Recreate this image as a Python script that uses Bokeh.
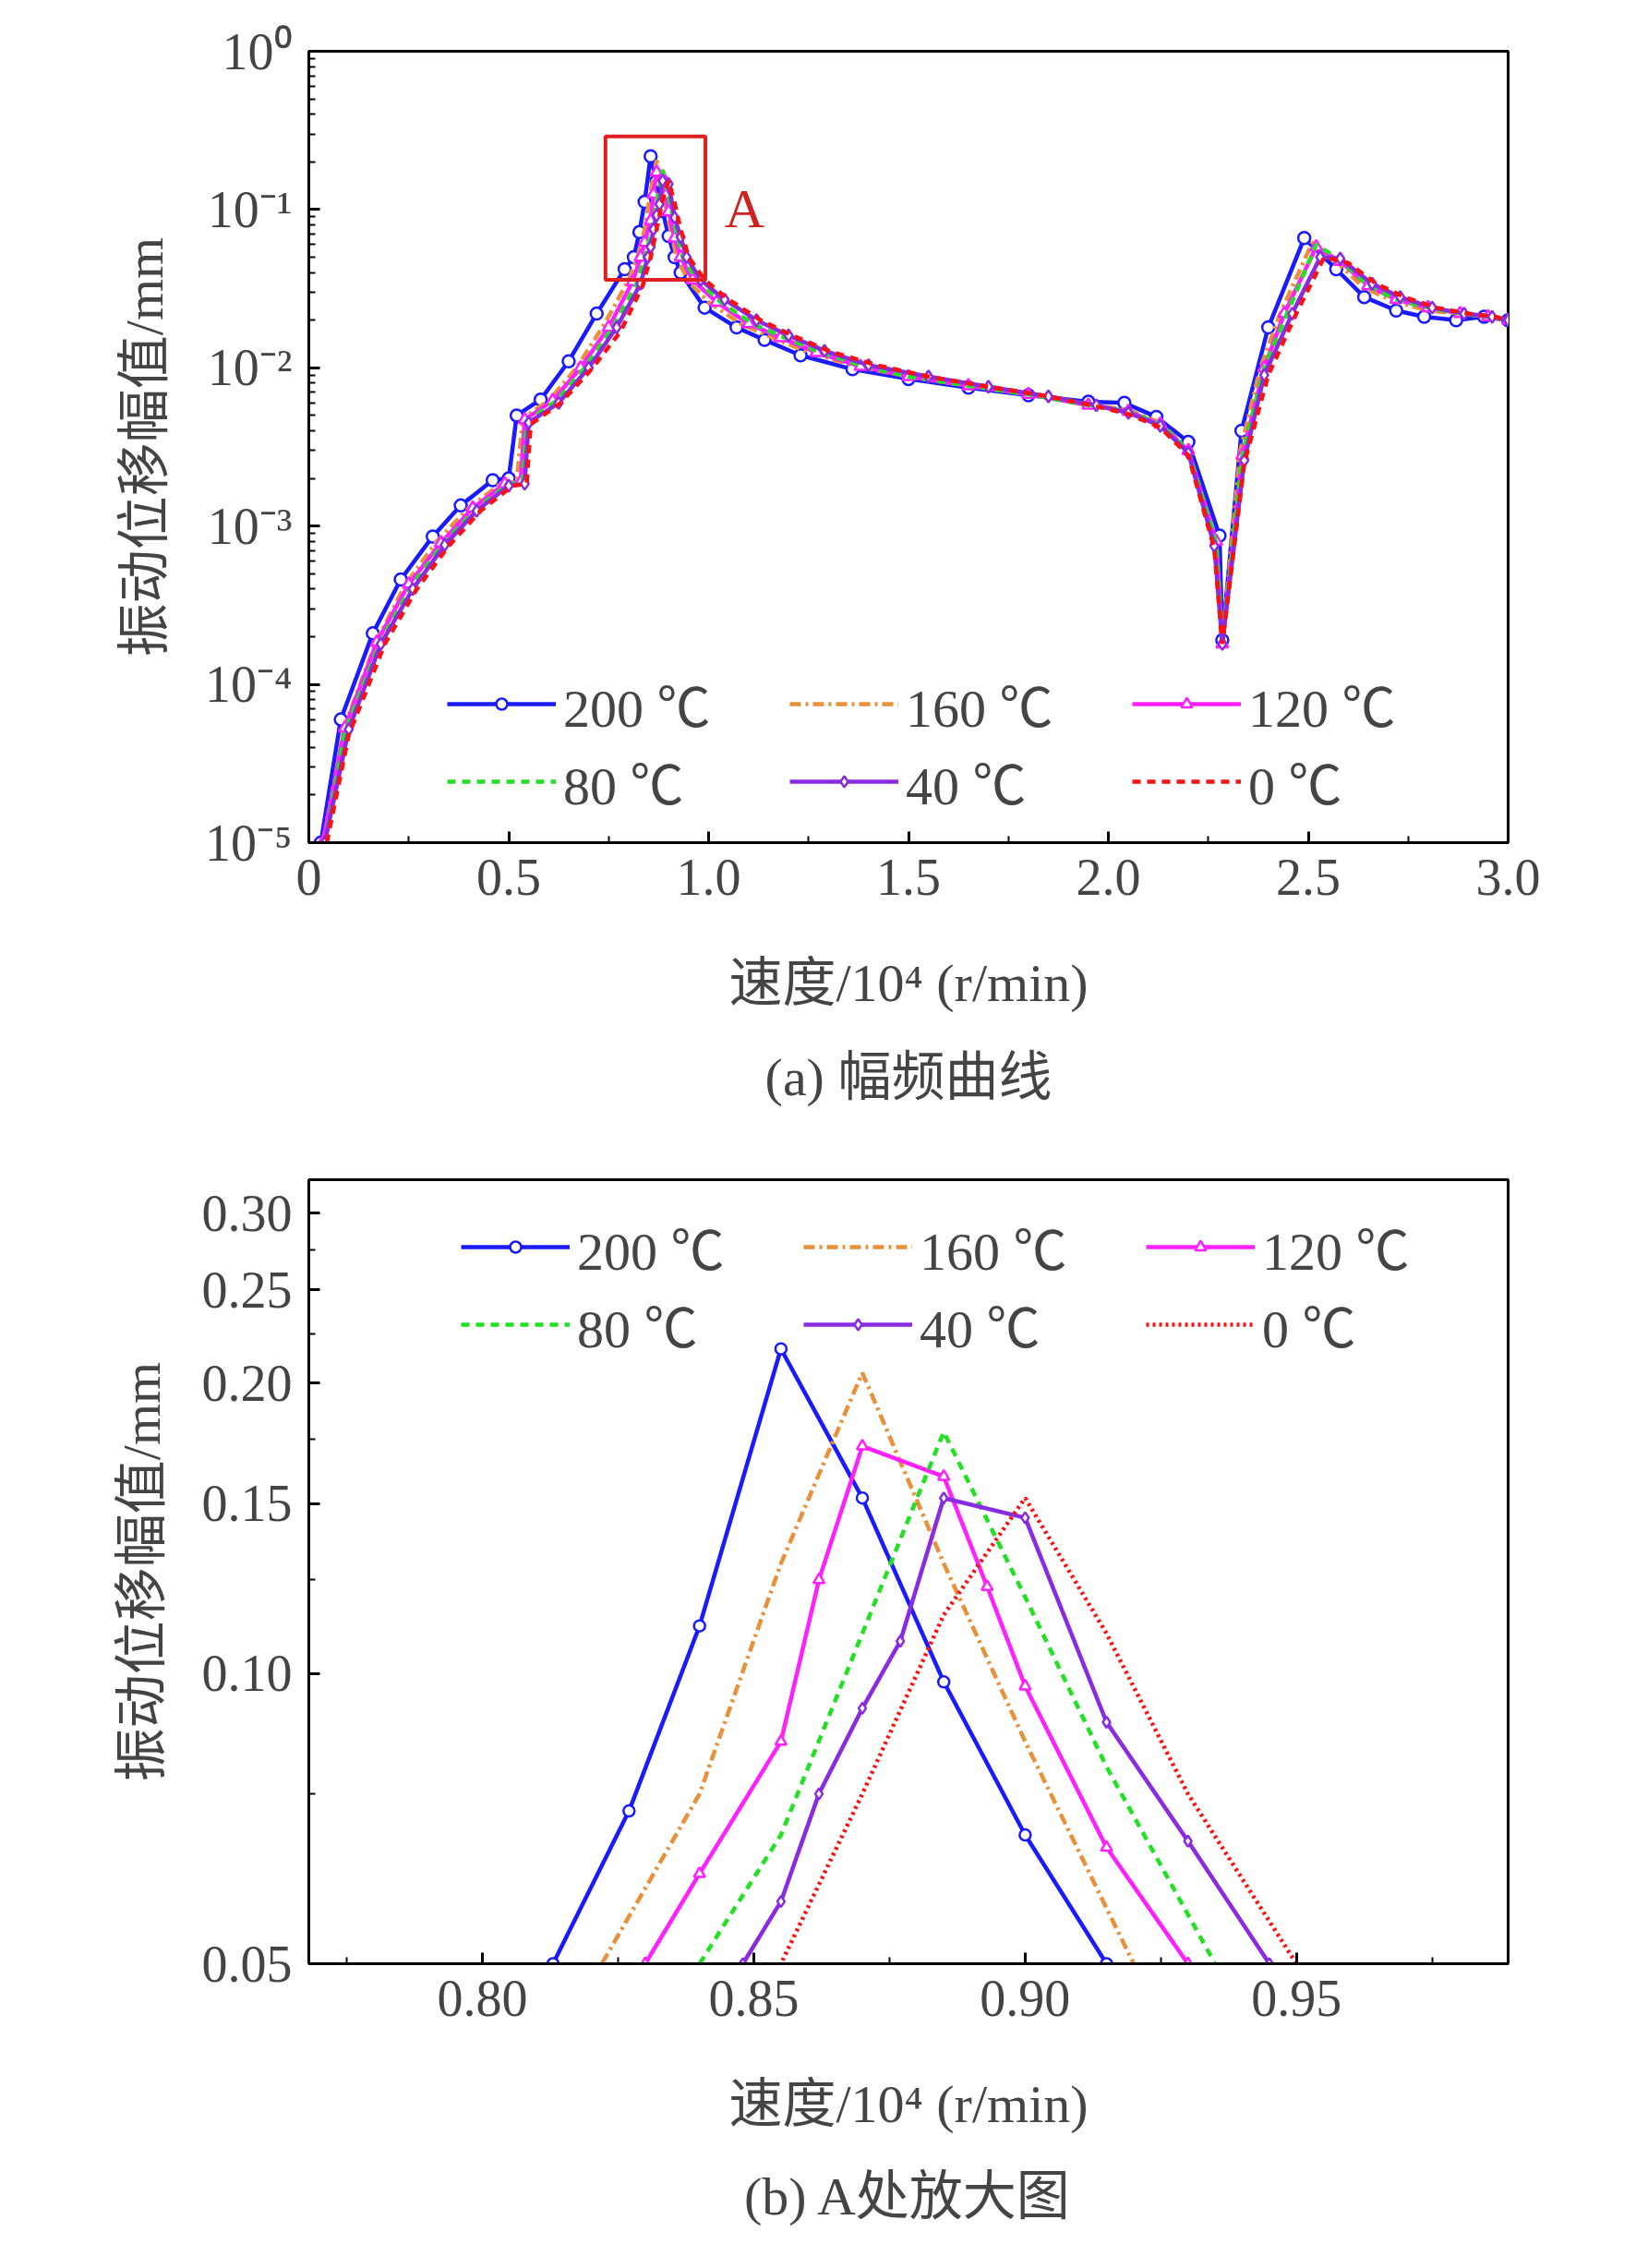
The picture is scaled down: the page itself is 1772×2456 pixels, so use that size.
from bokeh.plotting import figure
from bokeh.layouts import column
from bokeh.models import (Legend, LegendItem, FixedTicker, Title, BoxAnnotation, Label,
                          LogTicker)
from bokeh.embed import file_html
from bokeh.resources import INLINE

# data: speed (10^4 r/min), amplitude (mm)
labels = ["200 ℃", "160 ℃", "120 ℃", "80 ℃", "40 ℃", "0 ℃"]

s200 = [(0.03, 1.0e-5), (0.08, 6.0e-5), (0.16, 2.1e-4), (0.23, 4.6e-4), (0.31, 8.6e-4),
        (0.38, 1.35e-3), (0.46, 1.95e-3), (0.50, 2.0e-3), (0.52, 5.0e-3), (0.58, 6.3e-3),
        (0.65, 1.1e-2), (0.72, 2.2e-2), (0.79, 4.2e-2), (0.813, 0.05), (0.827, 0.072),
        (0.84, 0.112), (0.855, 0.217), (0.87, 0.152), (0.885, 0.098), (0.90, 0.068),
        (0.915, 0.05), (0.93, 0.04), (0.99, 0.024), (1.07, 0.018), (1.14, 0.015),
        (1.23, 0.012), (1.36, 0.0098), (1.5, 0.0085), (1.65, 0.0075), (1.8, 0.0067),
        (1.95, 0.0061), (2.04, 0.006), (2.12, 0.0049), (2.20, 0.0034), (2.278, 8.7e-4),
        (2.285, 1.9e-4), (2.333, 4.0e-3), (2.40, 1.8e-2), (2.49, 0.066), (2.57, 0.042),
        (2.64, 0.028), (2.72, 0.023), (2.79, 0.021), (2.87, 0.02), (2.94, 0.021), (3.0, 0.02)]
s160 = [(0.035, 1.0e-5), (0.09, 5.5e-5), (0.17, 1.9e-4), (0.24, 4.2e-4), (0.32, 8.0e-4),
        (0.40, 1.3e-3), (0.48, 1.85e-3), (0.52, 1.9e-3), (0.535, 4.8e-3), (0.60, 6.2e-3),
        (0.67, 1.0e-2), (0.74, 1.9e-2), (0.80, 3.6e-2), (0.822, 0.05), (0.84, 0.075),
        (0.855, 0.13), (0.87, 0.205), (0.885, 0.13), (0.90, 0.085), (0.92, 0.05),
        (0.95, 0.035), (1.0, 0.026), (1.08, 0.019), (1.16, 0.0155), (1.25, 0.0125),
        (1.37, 0.0102), (1.5, 0.0088), (1.65, 0.0077), (1.8, 0.0068), (1.95, 0.0059),
        (2.05, 0.0054), (2.13, 0.0045), (2.2, 0.003), (2.27, 8.0e-4), (2.285, 1.8e-4),
        (2.33, 3.0e-3), (2.38, 1.0e-2), (2.43, 2.2e-2), (2.51, 0.062), (2.57, 0.047),
        (2.64, 0.032), (2.72, 0.026), (2.8, 0.023), (2.88, 0.022), (2.95, 0.021), (3.0, 0.02)]
s120 = [(0.035, 1.0e-5), (0.09, 5.3e-5), (0.17, 1.85e-4), (0.25, 4.3e-4), (0.33, 7.8e-4),
        (0.41, 1.3e-3), (0.49, 1.85e-3), (0.53, 1.9e-3), (0.54, 4.7e-3), (0.61, 6.2e-3),
        (0.68, 1.0e-2), (0.75, 1.8e-2), (0.81, 3.5e-2), (0.83, 0.05), (0.84, 0.062),
        (0.855, 0.085), (0.862, 0.125), (0.87, 0.172), (0.885, 0.16), (0.893, 0.123),
        (0.90, 0.097), (0.915, 0.066), (0.93, 0.05), (0.96, 0.036), (1.02, 0.026),
        (1.1, 0.019), (1.18, 0.0155), (1.27, 0.0125), (1.38, 0.0102), (1.5, 0.0088),
        (1.65, 0.0077), (1.8, 0.0068), (1.95, 0.0058), (2.05, 0.0053), (2.13, 0.0044),
        (2.2, 0.003), (2.27, 8.0e-4), (2.285, 1.8e-4), (2.335, 2.8e-3), (2.39, 1.0e-2),
        (2.44, 2.2e-2), (2.52, 0.058), (2.58, 0.047), (2.65, 0.033), (2.72, 0.027),
        (2.8, 0.024), (2.88, 0.022), (2.95, 0.021), (3.0, 0.02)]
s80 = [(0.04, 1.0e-5), (0.09, 5.0e-5), (0.18, 1.9e-4), (0.26, 4.3e-4), (0.34, 8.0e-4),
       (0.42, 1.3e-3), (0.50, 1.85e-3), (0.535, 1.9e-3), (0.545, 4.6e-3), (0.62, 6.2e-3),
       (0.69, 1.0e-2), (0.76, 1.8e-2), (0.82, 3.4e-2), (0.84, 0.05), (0.855, 0.068),
       (0.87, 0.11), (0.885, 0.178), (0.90, 0.12), (0.915, 0.08), (0.935, 0.05),
       (0.97, 0.036), (1.03, 0.026), (1.11, 0.019), (1.19, 0.0155), (1.28, 0.0125),
       (1.39, 0.0102), (1.5, 0.0088), (1.65, 0.0077), (1.8, 0.0068), (1.95, 0.0058),
       (2.05, 0.0053), (2.13, 0.0044), (2.2, 0.003), (2.27, 7.8e-4), (2.285, 1.8e-4),
       (2.335, 2.8e-3), (2.39, 1.0e-2), (2.45, 2.3e-2), (2.52, 0.06), (2.58, 0.048),
       (2.65, 0.033), (2.72, 0.027), (2.8, 0.024), (2.88, 0.022), (2.95, 0.021), (3.0, 0.02)]
s40 = [(0.04, 1.0e-5), (0.10, 5.2e-5), (0.18, 1.8e-4), (0.26, 4.0e-4), (0.34, 7.6e-4),
       (0.42, 1.25e-3), (0.50, 1.8e-3), (0.54, 1.85e-3), (0.55, 4.5e-3), (0.625, 6.0e-3),
       (0.70, 1.0e-2), (0.77, 1.8e-2), (0.83, 3.4e-2), (0.848, 0.05), (0.855, 0.058),
       (0.862, 0.075), (0.87, 0.092), (0.877, 0.108), (0.885, 0.152), (0.90, 0.145),
       (0.915, 0.089), (0.93, 0.067), (0.945, 0.05), (0.98, 0.036), (1.04, 0.027),
       (1.12, 0.02), (1.2, 0.016), (1.29, 0.0128), (1.4, 0.0104), (1.55, 0.0088),
       (1.7, 0.0076), (1.85, 0.0066), (1.97, 0.0058), (2.05, 0.0052), (2.13, 0.0043),
       (2.2, 0.0029), (2.265, 7.5e-4), (2.285, 1.8e-4), (2.34, 2.6e-3), (2.39, 9.0e-3),
       (2.46, 2.2e-2), (2.53, 0.05), (2.58, 0.049), (2.66, 0.034), (2.73, 0.028),
       (2.81, 0.024), (2.89, 0.022), (2.96, 0.021), (3.0, 0.02)]
s0 = [(0.045, 1.0e-5), (0.10, 4.8e-5), (0.19, 1.8e-4), (0.27, 4.0e-4), (0.35, 7.5e-4),
      (0.43, 1.25e-3), (0.51, 1.8e-3), (0.545, 1.85e-3), (0.555, 4.4e-3), (0.63, 6.0e-3),
      (0.71, 1.0e-2), (0.78, 1.7e-2), (0.835, 3.3e-2), (0.855, 0.05), (0.87, 0.075),
      (0.885, 0.115), (0.90, 0.152), (0.915, 0.11), (0.93, 0.075), (0.95, 0.05),
      (0.99, 0.036), (1.05, 0.027), (1.13, 0.02), (1.21, 0.016), (1.3, 0.0128),
      (1.42, 0.0104), (1.55, 0.0088), (1.7, 0.0076), (1.85, 0.0066), (1.97, 0.0057),
      (2.05, 0.0051), (2.13, 0.0042), (2.2, 0.0028), (2.265, 7.2e-4), (2.285, 1.8e-4),
      (2.34, 2.5e-3), (2.40, 9.0e-3), (2.47, 2.2e-2), (2.54, 0.05), (2.6, 0.046),
      (2.67, 0.034), (2.74, 0.028), (2.82, 0.024), (2.9, 0.022), (2.97, 0.021), (3.0, 0.02)]
series = [s200, s160, s120, s80, s40, s0]

colors = ["#1a1aff", "#e8903a", "#ff20ff", "#22e022", "#8a2be2", "#ff1010"]
dashes_a = ["solid", "12 5 3 5", "solid", "9 7", "solid", "9 7"]
dashes_b = ["solid", "12 5 3 5", "solid", "9 7", "solid", "3 4"]
markers = ["circle", None, "triangle", None, "diamond", None]
legend_order = [0, 3, 1, 4, 2, 5]  # column-major fill -> rows 200/160/120, 80/40/0

SERIF = "Liberation Serif, Noto Sans CJK SC"


def style(p, fs="56px"):
    p.outline_line_color = "black"
    p.outline_line_width = 3
    p.grid.visible = False
    p.background_fill_color = "white"
    for ax in p.xaxis + p.yaxis:
        ax.major_label_text_font = SERIF
        ax.major_label_text_font_size = fs
        ax.axis_label_text_font = SERIF
        ax.axis_label_text_font_size = "58px"
        ax.axis_label_text_font_style = "normal"
        ax.axis_line_width = 3
        ax.major_tick_in = 12
        ax.major_tick_out = 0
        ax.minor_tick_in = 7
        ax.minor_tick_out = 0
        ax.major_tick_line_width = 3
        ax.minor_tick_line_width = 2
        ax.major_label_standoff = 18
    p.xaxis.axis_label_standoff = 60
    p.yaxis.axis_label_standoff = 30


def draw(p, dashes, msize):
    items = []
    for i, s in enumerate(series):
        xs = [a for a, b in s]
        ys = [b for a, b in s]
        r = [p.line(xs, ys, line_color=colors[i], line_width=4.5, line_dash=dashes[i])]
        if markers[i]:
            r.append(p.scatter(xs, ys, marker=markers[i], size=msize, fill_color="white",
                               line_color=colors[i], line_width=2.5))
        items.append(LegendItem(label=labels[i], renderers=r))
    leg = Legend(items=[items[k] for k in legend_order], ncols=3, label_text_font=SERIF,
                 label_text_font_size="58px", glyph_width=118, glyph_height=30, spacing=0,
                 label_standoff=8, label_width=245, label_height=78,
                 background_fill_alpha=0, border_line_alpha=0, padding=0, margin=0)
    return leg


# (a)
p1 = figure(width=1700, height=1230, y_axis_type="log", x_range=(0, 3.0),
            y_range=(1e-5, 1.0), output_backend="svg", toolbar_location=None,
            min_border_left=334, min_border_right=67, min_border_top=55,
            min_border_bottom=316, x_axis_label="速度/10⁴ (r/min)",
            y_axis_label="振动位移幅值/mm")
style(p1)
p1.xaxis.ticker = FixedTicker(ticks=[0, 0.5, 1.0, 1.5, 2.0, 2.5, 3.0],
                              minor_ticks=[0.25, 0.75, 1.25, 1.75, 2.25, 2.75])
p1.xaxis.major_label_overrides = {0: "0", 0.5: "0.5", 1: "1.0", 1.5: "1.5", 2: "2.0",
                                  2.5: "2.5", 3: "3.0"}
p1.yaxis.ticker = LogTicker(num_minor_ticks=10)
p1.yaxis.ticker.desired_num_ticks = 6
sup = {0: "⁰", -1: "⁻¹", -2: "⁻²", -3: "⁻³", -4: "⁻⁴", -5: "⁻⁵"}
p1.yaxis.major_label_overrides = {10.0 ** k: "10" + sup[k] for k in sup}
leg1 = draw(p1, dashes_a, 13)
leg1.location = (150, 24)
p1.add_layout(leg1)
p1.add_layout(BoxAnnotation(left=0.742, right=0.992, bottom=0.036, top=0.29,
                            fill_alpha=0, line_alpha=1, line_color="#e02020", line_width=4))
p1.add_layout(Label(x=1.04, y=0.065, text="A", text_color="#d02020",
                    text_font=SERIF, text_font_size="60px"))
p1.add_layout(Title(text="(a) 幅频曲线", text_font=SERIF, text_font_size="58px",
                    text_font_style="normal", align="center", standoff=64), "below")

# (b)
p2 = figure(width=1700, height=1210, y_axis_type="log", x_range=(0.768, 0.989),
            y_range=(0.05, 0.325), output_backend="svg", toolbar_location=None,
            min_border_left=334, min_border_right=67, min_border_top=47,
            min_border_bottom=304, x_axis_label="速度/10⁴ (r/min)",
            y_axis_label="振动位移幅值/mm")
style(p2)
p2.xaxis.ticker = FixedTicker(ticks=[0.80, 0.85, 0.90, 0.95],
                              minor_ticks=[0.775, 0.825, 0.875, 0.925, 0.975])
p2.xaxis.major_label_overrides = {0.8: "0.80", 0.85: "0.85", 0.9: "0.90", 0.95: "0.95"}
p2.yaxis.ticker = FixedTicker(ticks=[0.05, 0.10, 0.15, 0.20, 0.25, 0.30],
                              minor_ticks=[0.075, 0.125, 0.175, 0.225, 0.275])
p2.yaxis.major_label_overrides = {0.05: "0.05", 0.1: "0.10", 0.15: "0.15", 0.2: "0.20",
                                  0.25: "0.25", 0.3: "0.30"}
leg2 = draw(p2, dashes_b, 12)
leg2.location = (165, 650)
p2.add_layout(leg2)
p2.add_layout(Title(text="(b) A处放大图", text_font=SERIF, text_font_size="58px",
                    text_font_style="normal", align="center", standoff=60), "below")

open("out.html", "w").write(file_html(column(p1, p2, spacing=0), INLINE))
